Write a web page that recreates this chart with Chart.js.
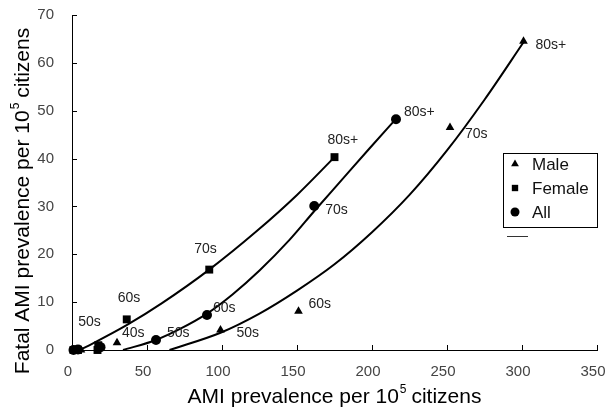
<!DOCTYPE html>
<html>
<head>
<meta charset="utf-8">
<script src="https://cdn.jsdelivr.net/npm/chart.js@4.4.1/dist/chart.umd.min.js"></script>
<style>
  html, body { margin: 0; padding: 0; background: #fff; }
  #wrap { width: 607px; height: 419px; position: relative; }
</style>
</head>
<body>
<div id="wrap"><canvas id="graph"></canvas></div>
<script>
// Age group points
var maleX = [2, 6, 30, 99, 151, 252, 301];
var maleY = [0, 0, 1.5, 4.2, 8.1, 46.5, 64.5];
var maleAges = ['', '', '40s', '50s', '60s', '70s', '80s+'];

var femaleX = [1, 4, 17, 17.5, 36.5, 91.5, 175];
var femaleY = [0, 0, 0, 1.0, 6.4, 16.8, 40.3];
var femaleAges = ['', '', '', '50s', '60s', '70s', '80s+'];

var allX = [1, 4, 19, 56, 90, 161.5, 216];
var allY = [0, 0.1, 0.6, 2.1, 7.3, 30.1, 48.2];
var allAges = ['', '', '', '50s', '60s', '70s', '80s+'];

// Trend curves
var maleFitX = [65, 99, 125, 150, 175, 200, 225, 250, 275, 301];
var maleFitY = [0, 3.6, 7.6, 12.4, 17.9, 24.6, 32.4, 41.7, 52.3, 64.3];
var femaleFitX = [5, 14, 37, 60, 91.5, 123, 150, 175];
var femaleFitY = [0, 1.4, 5.3, 9.8, 16.8, 24.8, 32.4, 40.3];
var allFitX = [34, 56, 72, 90, 107, 125, 145, 162, 180, 198, 216];
var allFitY = [0, 2.1, 4.4, 7.6, 11.6, 16.6, 23.0, 29.2, 35.6, 42.0, 48.3];

// Axis ticks
var xTicks = [0, 50, 100, 150, 200, 250, 300, 350];
var yTicks = [0, 10, 20, 30, 40, 50, 60, 70];

function toPoints(xs, ys) {
    return xs.map(function (x, i) { return { x: x, y: ys[i] }; });
}

// where each age label sits, relative to its marker (px)
var labelOffsets = [
    [null, null, [5, -10], [16, 3], [10, -7], [15, 7], [12, 4]],
    [null, null, null, [-20, -23], [-9, -21], [-15, -20], [-7, -17]],
    [null, null, null, [11, -7], [6, -7], [11, 4], [8, -7]]
];
var ageLabels = [maleAges, femaleAges, allAges];

var FONT = "'Liberation Sans', Arial, sans-serif";

function markerSet(name, xs, ys, style, r) {
    return {
        label: name,
        data: toPoints(xs, ys),
        pointStyle: style,
        pointRadius: r,
        pointHoverRadius: r,
        pointBackgroundColor: '#000',
        pointBorderWidth: 0,
        showLine: false,
        clip: false
    };
}
function curveSet(xs, ys) {
    return {
        data: toPoints(xs, ys),
        showLine: true,
        borderColor: '#000',
        borderWidth: 2,
        pointRadius: 0,
        pointHoverRadius: 0,
        cubicInterpolationMode: 'monotone',
        fill: false,
        clip: false
    };
}

// text with a superscript part in the middle
function supText(ctx, a, sup, b, size) {
    ctx.font = size + 'px ' + FONT;
    var wa = ctx.measureText(a).width;
    var wb = ctx.measureText(b).width;
    ctx.font = Math.round(size * 0.55) + 'px ' + FONT;
    var ws = ctx.measureText(sup).width;
    var total = wa + ws + wb;
    var x0 = -total / 2;
    ctx.font = size + 'px ' + FONT;
    ctx.fillText(a, x0, 0);
    ctx.fillText(b, x0 + wa + ws, 0);
    ctx.font = Math.round(size * 0.55) + 'px ' + FONT;
    ctx.fillText(sup, x0 + wa + 1, -size * 0.5);
}

// no extra room for overhanging tick labels, the plot box is fixed
function noPad(s) {
    s.paddingLeft = 0;
    s.paddingRight = 0;
    s.paddingTop = 0;
    s.paddingBottom = 0;
}

var overlay = {
    id: 'overlay',
    afterDatasetsDraw: function (chart) {
        var ctx = chart.ctx;
        ctx.save();
        ctx.fillStyle = '#222';
        ctx.font = '14px ' + FONT;
        ctx.textAlign = 'left';
        ctx.textBaseline = 'middle';
        for (var d = 0; d < 3; d++) {
            var meta = chart.getDatasetMeta(d);
            ageLabels[d].forEach(function (txt, j) {
                var off = labelOffsets[d][j];
                if (!txt || !off) return;
                var el = meta.data[j];
                ctx.fillText(txt, el.x + off[0], el.y + off[1]);
            });
        }
        ctx.restore();
    },
    afterDraw: function (chart) {
        var ctx = chart.ctx;
        var xs = chart.scales.x, ys = chart.scales.y;
        var area = chart.chartArea;
        ctx.save();
        // inward tick marks
        ctx.strokeStyle = '#000';
        ctx.lineWidth = 1;
        ctx.beginPath();
        xTicks.forEach(function (v) {
            var px = Math.round(xs.getPixelForValue(v)) + 0.5;
            ctx.moveTo(px, area.bottom);
            ctx.lineTo(px, area.bottom - 5);
        });
        yTicks.forEach(function (v) {
            var py = Math.round(ys.getPixelForValue(v)) + 0.5;
            ctx.moveTo(area.left, py);
            ctx.lineTo(area.left + 5, py);
        });
        ctx.stroke();

        // axis titles
        ctx.fillStyle = '#000';
        ctx.textAlign = 'left';
        ctx.textBaseline = 'alphabetic';
        ctx.save();
        ctx.translate((area.left + area.right) / 2, 403);
        supText(ctx, 'AMI prevalence per 10', '5', ' citizens', 21);
        ctx.restore();
        ctx.save();
        ctx.translate(29, 201);
        ctx.rotate(-Math.PI / 2);
        supText(ctx, 'Fatal AMI prevalence per 10', '5', ' citizens', 21);
        ctx.restore();

        // legend
        var bx = 503, by = 153, bw = 94, bh = 74;
        ctx.fillStyle = '#fff';
        ctx.fillRect(bx, by, bw, bh);
        ctx.strokeStyle = '#000';
        ctx.strokeRect(bx + 0.5, by + 0.5, bw, bh);
        var entries = [
            { name: 'Male', style: 'triangle', r: 4.5, y: 164 },
            { name: 'Female', style: 'rect', r: 4.5, y: 188 },
            { name: 'All', style: 'circle', r: 4.5, y: 212 }
        ];
        ctx.font = '17px ' + FONT;
        ctx.textBaseline = 'middle';
        entries.forEach(function (e) {
            ctx.fillStyle = '#000';
            Chart.helpers.drawPoint(ctx, { pointStyle: e.style, radius: e.r, borderWidth: 0, rotation: 0 }, 515, e.y);
            ctx.fillStyle = '#111';
            ctx.fillText(e.name, 532, e.y + 1);
        });
        ctx.strokeStyle = '#333';
        ctx.beginPath();
        ctx.moveTo(507, 236.5);
        ctx.lineTo(528, 236.5);
        ctx.stroke();
        ctx.restore();
    }
};

var config = {
    type: 'scatter',
    data: {
        datasets: [
            markerSet('Male', maleX, maleY, 'triangle', 5),
            markerSet('Female', femaleX, femaleY, 'rect', 5.6),
            markerSet('All', allX, allY, 'circle', 5),
            curveSet(maleFitX, maleFitY),
            curveSet(femaleFitX, femaleFitY),
            curveSet(allFitX, allFitY)
        ]
    },
    options: {
        responsive: true,
        maintainAspectRatio: false,
        animation: false,
        layout: { padding: { top: 15, right: 10, left: 0, bottom: 0 } },
        plugins: {
            legend: { display: false },
            tooltip: { enabled: false }
        },
        scales: {
            x: {
                type: 'linear',
                min: 0,
                max: 350,
                afterBuildTicks: function (s) { s.ticks = xTicks.map(function (v) { return { value: v }; }); },
                afterFit: function (s) { s.height = 69; noPad(s); },
                grid: { display: false, drawTicks: false },
                border: { display: true, color: '#000', width: 1 },
                ticks: { color: '#444', font: { family: FONT, size: 15 }, padding: 13, labelOffset: -4, maxRotation: 0 }
            },
            y: {
                type: 'linear',
                min: 0,
                max: 70,
                afterBuildTicks: function (s) { s.ticks = yTicks.map(function (v) { return { value: v }; }); },
                afterFit: function (s) { s.width = 72; noPad(s); },
                grid: { display: false, drawTicks: false },
                border: { display: true, color: '#000', width: 1 },
                ticks: { color: '#444', font: { family: FONT, size: 15 }, padding: 18 }
            }
        }
    },
    plugins: [overlay]
};

new Chart(document.getElementById('graph'), config);
</script>
</body>
</html>
